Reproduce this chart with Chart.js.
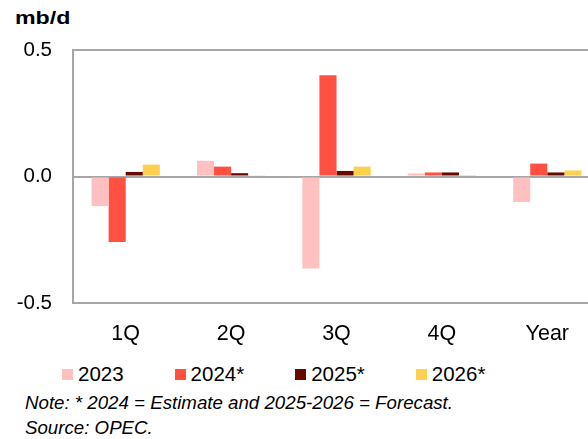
<!DOCTYPE html>
<html>
<head>
<meta charset="utf-8">
<script src="https://cdn.jsdelivr.net/npm/chart.js@4/dist/chart.umd.min.js"></script>
<style>
    body { margin: 0; width: 588px; height: 439px; overflow: hidden; background: #fff; font-family: 'Liberation Sans', Arial, sans-serif; position: relative; }
    #unit { position: absolute; left: 15px; top: 7px; font-size: 19px; font-weight: bold; color: #000; transform: scaleX(1.22); transform-origin: left top; }
    #wrap { position: absolute; left: 0; top: 0; width: 600px; height: 345px; }
    #legend { position: absolute; left: 62px; top: 362px; display: flex; white-space: nowrap; }
    .item { display: flex; align-items: center; font-size: 20.5px; color: #000; margin-right: 51px; }
    .box { width: 11px; height: 11px; margin-right: 5px; }
    .note { position: absolute; left: 25px; font-size: 18.7px; font-style: italic; color: #000; }
</style>
</head>
<body>
<div id="unit">mb/d</div>
<div id="wrap"><canvas id="chart"></canvas></div>
<div id="legend"></div>
<div class="note" style="top:392px">Note: * 2024 = Estimate and 2025-2026 = Forecast.</div>
<div class="note" style="top:417px">Source: OPEC.</div>
<script>
const categories = ['1Q', '2Q', '3Q', '4Q', 'Year'];
const seriesNames = ['2023', '2024*', '2025*', '2026*'];
const values2023 = [-0.117, 0.062, -0.364, 0.012, -0.101];
const values2024 = [-0.259, 0.039, 0.400, 0.016, 0.051];
const values2025 = [0.018, 0.013, 0.022, 0.016, 0.016];
const values2026 = [0.047, 0.005, 0.039, 0.002, 0.024];
const colors = ['#FFC1BF', '#FF5041', '#640A00', '#FFD050'];
const yTicks = [-0.5, 0, 0.5];

const allValues = [values2023, values2024, values2025, values2026];

// legend
const legend = document.getElementById('legend');
seriesNames.forEach((name, i) => {
    const item = document.createElement('div');
    item.className = 'item';
    item.innerHTML = '<span class="box" style="background:' + colors[i] + '"></span>' + name;
    legend.appendChild(item);
});

const ctx = document.getElementById('chart').getContext('2d');
new Chart(ctx, {
    type: 'bar',
    data: {
        labels: categories,
        datasets: seriesNames.map((name, i) => ({
            label: name,
            data: allValues[i],
            backgroundColor: colors[i],
            borderWidth: 0,
            barPercentage: 1,
            categoryPercentage: 0.648
        }))
    },
    options: {
        responsive: true,
        maintainAspectRatio: false,
        animation: false,
        layout: { padding: { top: 50, left: 0, right: 0, bottom: 0 } },
        plugins: {
            legend: { display: false },
            tooltip: { enabled: false }
        },
        scales: {
            x: {
                grid: { display: false },
                border: { display: false },
                ticks: {
                    color: '#000',
                    font: { size: 21.5, family: "'Liberation Sans', Arial, sans-serif" },
                    padding: 10
                },
                afterFit: function(scale) { scale.height = 42; }
            },
            y: {
                min: -0.5,
                max: 0.5,
                afterBuildTicks: function(scale) {
                    scale.ticks = yTicks.map(v => ({ value: v }));
                },
                grid: {
                    color: '#A6A6A6',
                    lineWidth: 2,
                    drawTicks: false
                },
                border: { display: true, color: '#A6A6A6', width: 2 },
                ticks: {
                    color: '#000',
                    font: { size: 20.5, family: "'Liberation Sans', Arial, sans-serif" },
                    padding: 21,
                    callback: function(value) { return value.toFixed(1); }
                },
                afterFit: function(scale) { scale.width = 73; }
            }
        }
    }
});
</script>
</body>
</html>
